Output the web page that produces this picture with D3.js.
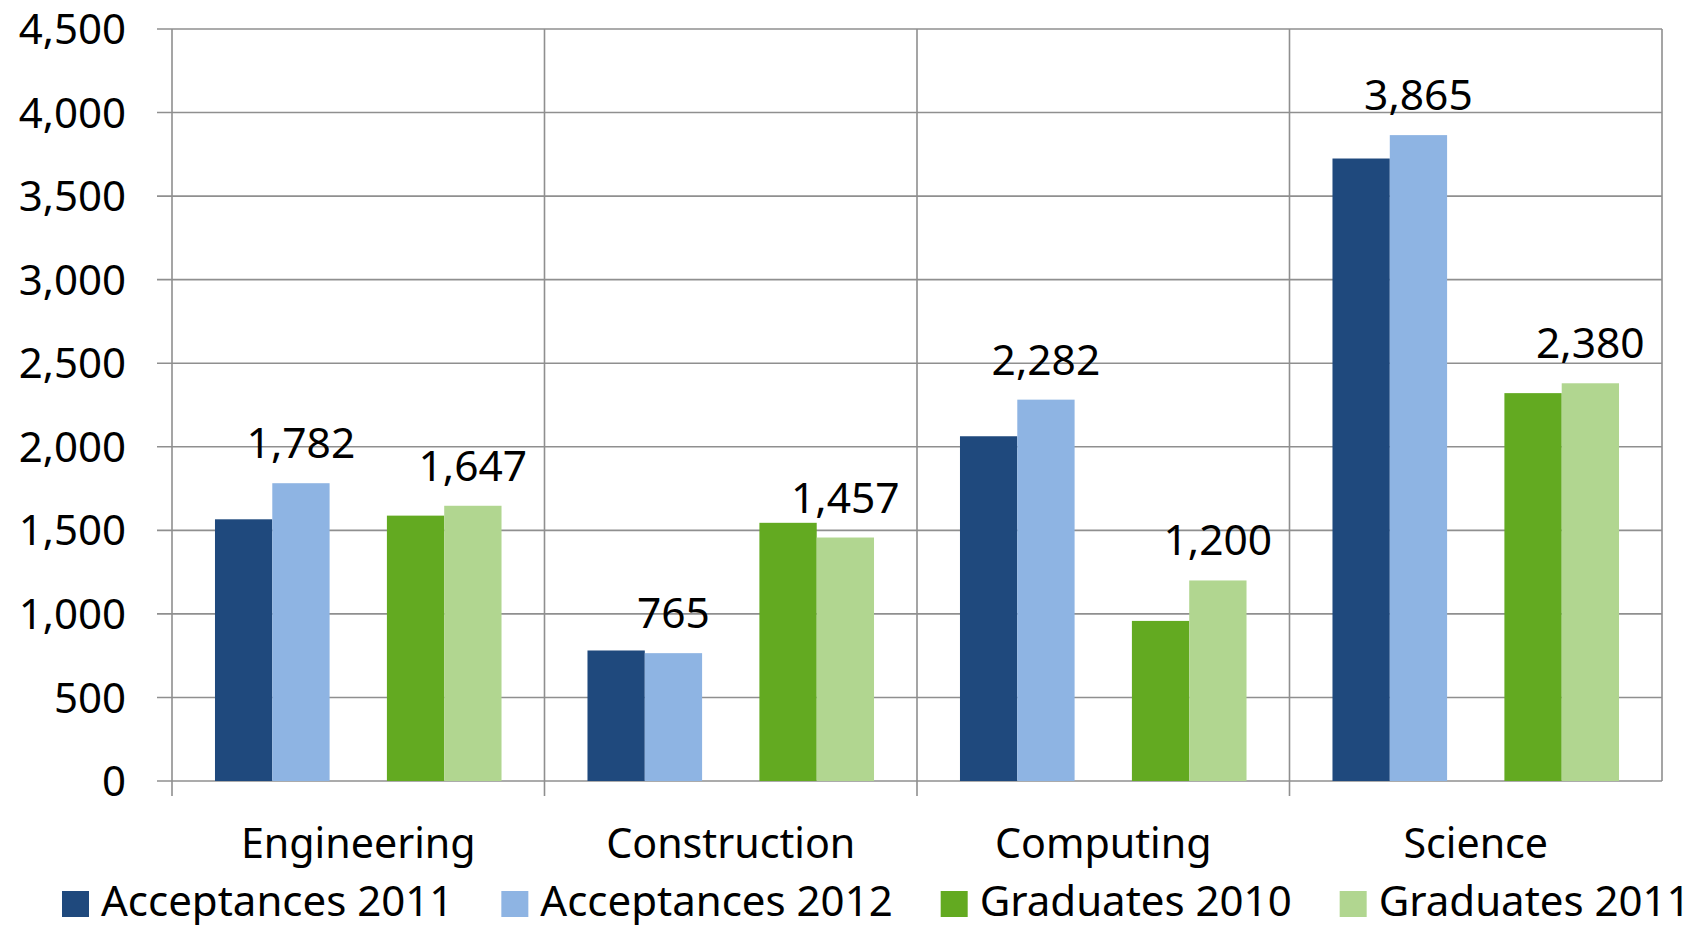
<!doctype html>
<html lang="en">
<head>
    <meta charset="UTF-8">
    <title>Acceptances and Graduates</title>
    <script src="https://d3js.org/d3.v7.min.js"></script>
    <style>
      body { margin: 0; background: #fff; }
      text { font-family: "Noto Sans", "Open Sans", sans-serif; fill: #000; }
    </style>
</head>
<body>
    <svg width="1684" height="925"></svg>

    <script>

      // Data
      const categories = ["Engineering", "Construction", "Computing", "Science"];
      const seriesNames = ["Acceptances 2011", "Acceptances 2012", "Graduates 2010", "Graduates 2011"];
      const acceptances2011 = [1566, 781, 2063, 3725];
      const acceptances2012 = [1782, 765, 2282, 3865];
      const graduates2010 = [1588, 1545, 958, 2321];
      const graduates2011 = [1647, 1457, 1200, 2380];
      const yTicks = [0, 500, 1000, 1500, 2000, 2500, 3000, 3500, 4000, 4500];
      const labelled = ["Acceptances 2012", "Graduates 2011"];

      const colors = ["#1f497d", "#8eb4e3", "#63aa21", "#b1d690"];
      const seriesValues = [acceptances2011, acceptances2012, graduates2010, graduates2011];

      // SVG and scales
      const svg = d3.select("svg");
      const margin = {top: 29, right: 22, bottom: 144, left: 172};
      const width = 1684 - margin.left - margin.right;
      const height = 925 - margin.top - margin.bottom;

      const g = svg.append("g")
          .attr("transform", `translate(${margin.left},${margin.top})`);

      const x0 = d3.scaleBand()
          .domain(categories)
          .range([0, width]);

      // an empty slot sits between the acceptances pair and the graduates pair
      const slots = [seriesNames[0], seriesNames[1], "gap", seriesNames[2], seriesNames[3]];
      const x1 = d3.scaleBand()
          .domain(slots)
          .range([0, x0.bandwidth()])
          .paddingInner(0)
          .paddingOuter(0.75);

      const y = d3.scaleLinear()
          .domain([0, 4500])
          .range([height, 0]);

      // Gridlines
      g.append("g")
          .selectAll("line")
          .data(yTicks)
          .join("line")
          .attr("x1", -15)
          .attr("x2", width)
          .attr("y1", d => y(d))
          .attr("y2", d => y(d))
          .attr("stroke", "#8f8f8f")
          .attr("stroke-width", 1.6);

      const bounds = categories.map(c => x0(c)).concat([width]);
      g.append("g")
          .selectAll("line")
          .data(bounds)
          .join("line")
          .attr("x1", d => d)
          .attr("x2", d => d)
          .attr("y1", 0)
          .attr("y2", (d, i) => i === bounds.length - 1 ? height : height + 15)
          .attr("stroke", "#8f8f8f")
          .attr("stroke-width", 1.6);

      // Bars
      const rows = categories.map((c, i) => ({
        category: c,
        values: seriesNames.map((s, j) => ({series: s, value: seriesValues[j][i], color: colors[j]}))
      }));

      const groups = g.append("g")
          .selectAll("g")
          .data(rows)
          .join("g")
          .attr("transform", d => `translate(${x0(d.category)},0)`);

      groups.selectAll("rect")
          .data(d => d.values)
          .join("rect")
          .attr("x", d => x1(d.series))
          .attr("width", x1.bandwidth())
          .attr("y", d => y(d.value))
          .attr("height", d => height - y(d.value))
          .attr("fill", d => d.color);

      groups.selectAll("text.value")
          .data(d => d.values.filter(v => labelled.includes(v.series)))
          .join("text")
          .attr("class", "value")
          .attr("x", d => x1(d.series) + x1.bandwidth() / 2)
          .attr("y", d => y(d.value) - 25)
          .attr("text-anchor", "middle")
          .attr("font-size", 42.5)
          .text(d => d3.format(",")(d.value));

      // Y axis labels
      g.append("g")
          .selectAll("text")
          .data(yTicks)
          .join("text")
          .attr("x", -46)
          .attr("y", d => y(d))
          .attr("dy", "0.36em")
          .attr("text-anchor", "end")
          .attr("font-size", 42)
          .text(d => d3.format(",")(d));

      // Category labels
      g.append("g")
          .selectAll("text")
          .data(categories)
          .join("text")
          .attr("x", d => x0(d) + x0.bandwidth() / 2)
          .attr("y", height + 77)
          .attr("text-anchor", "middle")
          .attr("font-size", 41.2)
          .text(d => d);

      // Legend
      const legend = svg.append("g").attr("transform", "translate(62,891)");
      let lx = 0;
      seriesNames.forEach((s, i) => {
        const item = legend.append("g").attr("transform", `translate(${lx},0)`);
        item.append("rect")
            .attr("width", 27)
            .attr("height", 26)
            .attr("fill", colors[i]);
        const t = item.append("text")
            .attr("x", 39)
            .attr("y", 25)
            .attr("font-size", 42)
            .text(s);
        lx += 39 + t.node().getComputedTextLength() + 48;
      });

    </script>

</body>
</html>
